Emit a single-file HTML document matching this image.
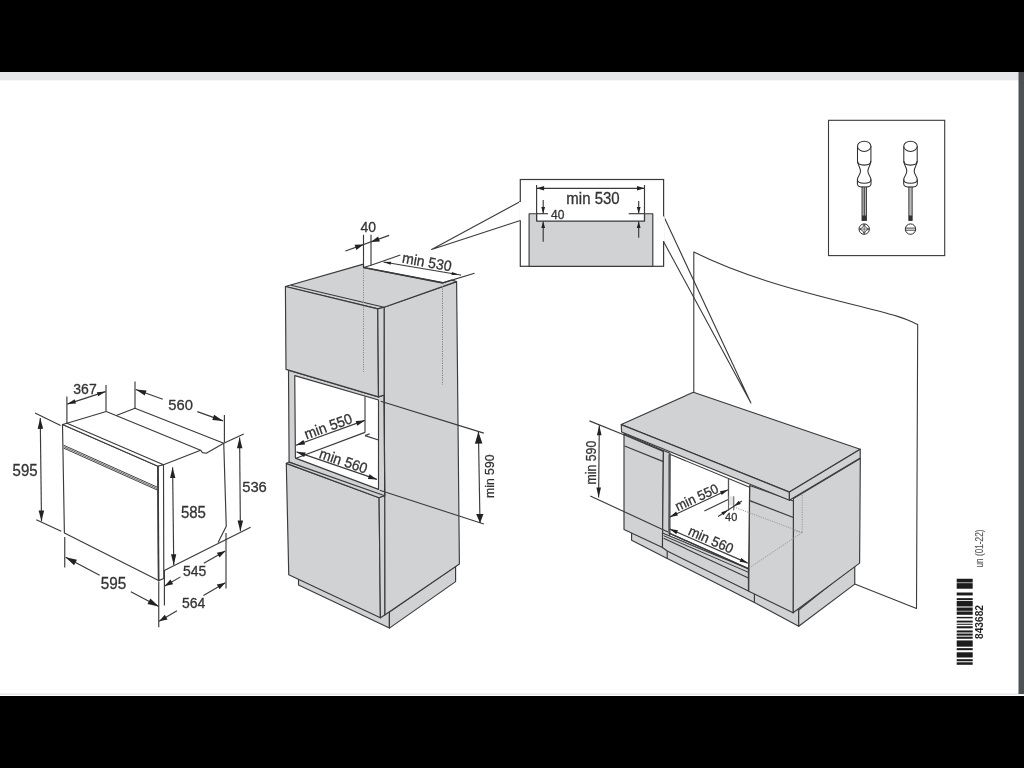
<!DOCTYPE html>
<html><head><meta charset="utf-8"><title>Installation dimensions</title>
<style>
html,body{margin:0;padding:0;background:#fff;width:1024px;height:768px;overflow:hidden}
svg{display:block;will-change:transform;transform:translateZ(0)}
text{font-family:"Liberation Sans",sans-serif}
</style></head><body>
<svg width="1024" height="768" viewBox="0 0 1024 768">
<rect x="0" y="0" width="1024" height="768" fill="#fff"/>
<rect x="0" y="0" width="1024" height="72" fill="#000"/>
<rect x="0" y="72" width="1024" height="8.3" fill="#e6e7e8"/>
<rect x="0" y="693.6" width="1024" height="1" fill="#dcdcdc"/>
<rect x="0" y="696" width="1024" height="72" fill="#000"/>
<rect x="1018.5" y="72" width="5.5" height="622" fill="#4d5154"/>
<defs><filter id="soft" filterUnits="userSpaceOnUse" x="0" y="80" width="1018" height="613"><feGaussianBlur stdDeviation="0.32"/></filter></defs>
<g filter="url(#soft)">
<polygon points="62.5,424.5 158,466.3 158.6,580.6 64.4,533.1" fill="#fff" stroke="#3a3a3a" stroke-width="1.15" stroke-linejoin="round" />
<polygon points="62.5,424.5 67,423.2 163.5,464.8 158,466.3" fill="#fff" stroke="#3a3a3a" stroke-width="1.15" stroke-linejoin="round" />
<polygon points="158,466.3 163.5,464.8 163.8,578.5 158.6,580.6" fill="#fff" stroke="#3a3a3a" stroke-width="1.15" stroke-linejoin="round" />
<line x1="158" y1="466.3" x2="158.6" y2="580.6" stroke="#3a3a3a" stroke-width="1.6" />
<line x1="67" y1="423.2" x2="106.25" y2="411.5" stroke="#3a3a3a" stroke-width="1.15" />
<polyline points="106.25,411.5 200.6,450.2 202.5,452.6 206.25,453.2 223.75,443.3" fill="none" stroke="#3a3a3a" stroke-width="1.15" stroke-linejoin="round" />
<polyline points="116.25,415.5 135,408.2 223.75,443.3" fill="none" stroke="#3a3a3a" stroke-width="1.15" stroke-linejoin="round" />
<line x1="163.5" y1="464.8" x2="200.6" y2="450.2" stroke="#3a3a3a" stroke-width="1.15" />
<polyline points="223.75,443.3 226.25,526.25 218.1,542.5" fill="none" stroke="#3a3a3a" stroke-width="1.15" stroke-linejoin="round" />
<line x1="163.8" y1="570.8" x2="250.6" y2="527.25" stroke="#3a3a3a" stroke-width="1.15" />
<line x1="63.6" y1="445.2" x2="157.6" y2="487.3" stroke="#444" stroke-width="1.0" />
<line x1="63.6" y1="446.65" x2="157.6" y2="488.75" stroke="#666" stroke-width="1.0" />
<line x1="63.6" y1="448.09999999999997" x2="157.6" y2="490.2" stroke="#444" stroke-width="1.0" />
<line x1="66.9" y1="396.5" x2="66.9" y2="423" stroke="#3a3a3a" stroke-width="1.15" />
<line x1="106" y1="385" x2="106" y2="411.5" stroke="#3a3a3a" stroke-width="1.15" />
<line x1="135" y1="381.5" x2="135" y2="408" stroke="#3a3a3a" stroke-width="1.15" />
<line x1="224.4" y1="415" x2="224.4" y2="442.5" stroke="#3a3a3a" stroke-width="1.15" />
<line x1="35" y1="413.1" x2="60.6" y2="425.4" stroke="#3a3a3a" stroke-width="1.15" />
<line x1="36.25" y1="519.75" x2="61.25" y2="531.25" stroke="#3a3a3a" stroke-width="1.15" />
<line x1="223.75" y1="443.3" x2="243.75" y2="434" stroke="#3a3a3a" stroke-width="1.15" />
<line x1="64.75" y1="536.9" x2="64.75" y2="567.5" stroke="#3a3a3a" stroke-width="1.15" />
<line x1="158.75" y1="581.5" x2="158.75" y2="627.2" stroke="#3a3a3a" stroke-width="1.15" />
<line x1="164.4" y1="571" x2="164.4" y2="605.6" stroke="#3a3a3a" stroke-width="1.15" />
<line x1="226" y1="533" x2="226" y2="588.4" stroke="#3a3a3a" stroke-width="1.15" />
<line x1="67.25" y1="404.1" x2="105.6" y2="391.6" stroke="#3a3a3a" stroke-width="1.15" />
<polygon points="67.25,404.10 74.65,399.37 76.01,403.56" fill="#222"/>
<polygon points="105.60,391.60 98.20,396.33 96.84,392.14" fill="#222"/>
<text transform="translate(85 393.5) scale(1 1.05)" font-size="14" text-anchor="middle" font-weight="normal" fill="#333" stroke="#333" stroke-width="0.28" >367</text>
<line x1="135.75" y1="389.5" x2="162.8285" y2="399.234" stroke="#3a3a3a" stroke-width="1.15" />
<line x1="197.33175" y1="411.637" x2="223.1" y2="420.9" stroke="#3a3a3a" stroke-width="1.15" />
<polygon points="135.75,389.50 146.54,390.51 144.72,395.59" fill="#222"/>
<polygon points="223.10,420.90 212.31,419.89 214.13,414.81" fill="#222"/>
<text transform="translate(180.6 409.8) scale(1 1.05)" font-size="14.8" text-anchor="middle" font-weight="normal" fill="#333" stroke="#333" stroke-width="0.28" >560</text>
<line x1="40.25" y1="418.1" x2="41.5" y2="521.25" stroke="#3a3a3a" stroke-width="1.15" />
<polygon points="40.25,418.10 43.13,428.87 37.63,428.93" fill="#222"/>
<polygon points="41.50,521.25 38.62,510.48 44.12,510.42" fill="#222"/>
<text transform="translate(25.1 475.5) scale(1 1.05)" font-size="15" text-anchor="middle" font-weight="normal" fill="#333" stroke="#333" stroke-width="0.28" >595</text>
<line x1="239.6" y1="437.5" x2="240.4" y2="531.25" stroke="#3a3a3a" stroke-width="1.15" />
<polygon points="239.60,437.50 242.44,448.28 236.94,448.32" fill="#222"/>
<polygon points="240.40,531.25 237.56,520.47 243.06,520.43" fill="#222"/>
<text transform="translate(254.5 492.2) scale(1 1.05)" font-size="14.8" text-anchor="middle" font-weight="normal" fill="#333" stroke="#333" stroke-width="0.28" >536</text>
<line x1="172.6" y1="467.2" x2="173.75" y2="565" stroke="#3a3a3a" stroke-width="1.15" />
<polygon points="172.60,467.20 175.38,477.97 170.08,478.03" fill="#222"/>
<polygon points="173.75,565.00 170.97,554.23 176.27,554.17" fill="#222"/>
<text transform="translate(193.4 518.2) scale(1 1.05)" font-size="15" text-anchor="middle" font-weight="normal" fill="#333" stroke="#333" stroke-width="0.28" >585</text>
<line x1="65.6" y1="557.3" x2="99.618" y2="575.2215" stroke="#3a3a3a" stroke-width="1.15" />
<line x1="130.84" y1="591.67" x2="158.8" y2="606.4" stroke="#3a3a3a" stroke-width="1.15" />
<polygon points="65.60,557.30 76.95,559.78 74.06,565.26" fill="#222"/>
<polygon points="158.80,606.40 147.45,603.92 150.34,598.44" fill="#222"/>
<text transform="translate(113.5 588.7) scale(1 1.05)" font-size="15.3" text-anchor="middle" font-weight="normal" fill="#333" stroke="#333" stroke-width="0.28" >595</text>
<line x1="164.75" y1="586" x2="180.493" y2="576.874" stroke="#3a3a3a" stroke-width="1.15" />
<line x1="203.80475" y1="563.3605" x2="225.3" y2="550.9" stroke="#3a3a3a" stroke-width="1.15" />
<polygon points="164.75,586.00 170.47,579.51 173.22,584.27" fill="#222"/>
<polygon points="225.30,550.90 219.58,557.39 216.83,552.63" fill="#222"/>
<text transform="translate(194.7 576) scale(1 1.05)" font-size="14" text-anchor="middle" font-weight="normal" fill="#333" stroke="#333" stroke-width="0.28" >545</text>
<line x1="159.1" y1="621.2" x2="176.974" y2="610.8185000000001" stroke="#3a3a3a" stroke-width="1.15" />
<line x1="203.454" y1="595.4385" x2="225.3" y2="582.75" stroke="#3a3a3a" stroke-width="1.15" />
<polygon points="159.10,621.20 164.78,614.66 167.60,619.50" fill="#222"/>
<polygon points="225.30,582.75 219.62,589.29 216.80,584.45" fill="#222"/>
<text transform="translate(193.7 608.4) scale(1 1.05)" font-size="14" text-anchor="middle" font-weight="normal" fill="#333" stroke="#333" stroke-width="0.28" >564</text>
<polygon points="298.5,578 298.5,585 389.4,628.1 389.4,612" fill="#d1d2d4" stroke="#3a3a3a" stroke-width="1.15" stroke-linejoin="round" />
<polygon points="389.4,612 389.4,628.1 455.6,581.6 455.6,566" fill="#d1d2d4" stroke="#3a3a3a" stroke-width="1.15" stroke-linejoin="round" />
<polygon points="384.1,307.2 456.6,281.6 459.4,564 384.75,615" fill="#d1d2d4" stroke="#3a3a3a" stroke-width="1.15" stroke-linejoin="round" />
<polygon points="285.4,286.5 363.5,264.1 363.5,267.5 442.9,282.9 451.6,280 456.6,281.6 384.1,307.2 377.8,308.9" fill="#d1d2d4" stroke="#3a3a3a" stroke-width="1.15" stroke-linejoin="round" />
<line x1="291" y1="285.2" x2="384.1" y2="307.2" stroke="#3a3a3a" stroke-width="1.15" />
<line x1="363.5" y1="267.5" x2="442.9" y2="282.9" stroke="#3a3a3a" stroke-width="1.7" />
<polygon points="288.5,370.2 378.5,396.9 384.1,395 384.75,495.7 379.1,497.75 289.1,462.1" fill="#d1d2d4" stroke="#3a3a3a" stroke-width="1.15" stroke-linejoin="round" />
<polygon points="294.75,375.6 378.5,400 378.5,489.4 295.4,458.1" fill="#fff" stroke="#3a3a3a" stroke-width="1.15" stroke-linejoin="round" />
<line x1="384.1" y1="395" x2="384.75" y2="495.7" stroke="#3a3a3a" stroke-width="1.15" />
<line x1="365" y1="396.2" x2="365" y2="432.4" stroke="#555" stroke-width="1.3" />
<line x1="365" y1="432.4" x2="296" y2="458.2" stroke="#3a3a3a" stroke-width="1.15" />
<line x1="365" y1="435.6" x2="378.5" y2="440" stroke="#3a3a3a" stroke-width="1.15" />
<line x1="365" y1="435.6" x2="369.75" y2="433.75" stroke="#3a3a3a" stroke-width="1.15" />
<polygon points="285.4,286.5 377.8,308.9 378.5,396.9 286,369.4" fill="#d1d2d4" stroke="#3a3a3a" stroke-width="1.15" stroke-linejoin="round" />
<polygon points="377.8,308.9 384.1,307.2 384.1,395 378.5,396.9" fill="#d1d2d4" stroke="#3a3a3a" stroke-width="1.15" stroke-linejoin="round" />
<polygon points="286.3,463.4 379.1,497.75 380.4,617.8 288.75,574.7" fill="#d1d2d4" stroke="#3a3a3a" stroke-width="1.15" stroke-linejoin="round" />
<polygon points="286.3,463.4 289.1,462.1 384.75,495.7 379.1,497.75" fill="#d1d2d4" stroke="#3a3a3a" stroke-width="1.15" stroke-linejoin="round" />
<polygon points="379.1,497.75 384.75,495.7 384.75,615 380.4,617.8" fill="#d1d2d4" stroke="#3a3a3a" stroke-width="1.15" stroke-linejoin="round" />
<line x1="363.5" y1="268" x2="363.5" y2="372" stroke="#8a8a8a" stroke-width="1" stroke-dasharray="1.2 1.2"/>
<line x1="442.5" y1="286" x2="442.5" y2="385" stroke="#808080" stroke-width="1" stroke-dasharray="1.2 1.2"/>
<line x1="363.5" y1="234.75" x2="363.5" y2="267.5" stroke="#3a3a3a" stroke-width="1.15" />
<line x1="371" y1="234.75" x2="371" y2="265.4" stroke="#3a3a3a" stroke-width="1.15" />
<line x1="345.4" y1="251" x2="389.1" y2="235.4" stroke="#3a3a3a" stroke-width="1.15" />
<polygon points="363.50,244.50 356.41,249.91 354.59,244.83" fill="#222"/>
<polygon points="371.00,241.90 378.09,236.49 379.91,241.57" fill="#222"/>
<text transform="translate(368.2 232.2) scale(1 1.05)" font-size="14" text-anchor="middle" font-weight="normal" fill="#333" stroke="#333" stroke-width="0.28" >40</text>
<polyline points="363.5,267.5 371,265.2 400.4,255" fill="none" stroke="#3a3a3a" stroke-width="1.15" stroke-linejoin="round" />
<line x1="442.9" y1="282.9" x2="474.5" y2="273.2" stroke="#3a3a3a" stroke-width="1.15" />
<line x1="383.5" y1="262" x2="459.1" y2="274.75" stroke="#3a3a3a" stroke-width="1.15" />
<polygon points="383.50,262.00 391.16,261.67 390.63,264.82" fill="#222"/>
<polygon points="459.10,274.75 451.44,275.08 451.97,271.93" fill="#222"/>
<line x1="459.1" y1="274.75" x2="461" y2="275.1" stroke="#3a3a3a" stroke-width="1.15" />
<text transform="translate(401.6 262.6) rotate(10.3) scale(1 1.05)" font-size="14" text-anchor="start" font-weight="normal" fill="#333" stroke="#333" stroke-width="0.28" >min 530</text>
<line x1="296" y1="445.25" x2="364.75" y2="420.4" stroke="#3a3a3a" stroke-width="1.15" />
<polygon points="296.00,445.25 303.43,439.91 305.13,444.61" fill="#222"/>
<polygon points="364.75,420.40 357.32,425.74 355.62,421.04" fill="#222"/>
<g transform="translate(330.4 432.8) rotate(-19.8)">
<text transform="translate(0.2 -1.8) scale(1 1.05)" font-size="14" text-anchor="middle" font-weight="normal" fill="#333" stroke="#333" stroke-width="0.28" >min 550</text>
</g>
<line x1="296.6" y1="451.9" x2="377" y2="479.4" stroke="#3a3a3a" stroke-width="1.15" />
<polygon points="296.60,451.90 305.74,452.38 304.12,457.11" fill="#222"/>
<polygon points="377.00,479.40 367.86,478.92 369.48,474.19" fill="#222"/>
<g transform="translate(336.8 465.65) rotate(18.8)">
<text transform="translate(4.9 -1.5) scale(1 1.05)" font-size="14" text-anchor="middle" font-weight="normal" fill="#333" stroke="#333" stroke-width="0.28" >min 560</text>
</g>
<line x1="380.7" y1="401.25" x2="483.8" y2="433.1" stroke="#3a3a3a" stroke-width="1.15" />
<line x1="379.75" y1="490.3" x2="483.8" y2="524" stroke="#3a3a3a" stroke-width="1.15" />
<line x1="478.4" y1="431.7" x2="480" y2="523" stroke="#3a3a3a" stroke-width="1.15" />
<polygon points="478.40,431.70 482.39,443.62 474.89,443.77" fill="#222"/>
<polygon points="480.00,523.00 476.17,514.07 483.47,513.93" fill="#222"/>
<text transform="translate(494.2 476.25) rotate(-90)" font-size="13.4" text-anchor="middle" font-weight="normal" fill="#333" stroke="#333" stroke-width="0.28" textLength="43.4" lengthAdjust="spacingAndGlyphs">min 590</text>
<polyline points="520.3,201.5 431.6,249.5 520.3,220.6" fill="none" stroke="#3a3a3a" stroke-width="1.1" stroke-linejoin="round" />
<polyline points="663.5,215.8 750.9,402.9 663.5,241.5" fill="none" stroke="#3a3a3a" stroke-width="1.1" stroke-linejoin="round" />
<rect x="520.3" y="179.5" width="143.3" height="86.8" fill="#fff" stroke="#3a3a3a" stroke-width="1.2"/>
<line x1="520.3" y1="202" x2="520.3" y2="220.2" stroke="#fff" stroke-width="2.4" />
<line x1="663.6" y1="216.4" x2="663.6" y2="241" stroke="#fff" stroke-width="2.4" />
<polygon points="529.1,213.7 536.6,213.7 536.6,221.1 644.5,221.1 644.5,213.7 652.8,213.7 652.8,266.3 529.1,266.3" fill="#d1d2d4" stroke="#3a3a3a" stroke-width="1.15" stroke-linejoin="round" />
<line x1="536.6" y1="185" x2="536.6" y2="221.1" stroke="#3a3a3a" stroke-width="1.15" />
<line x1="644.5" y1="185" x2="644.5" y2="221.1" stroke="#3a3a3a" stroke-width="1.15" />
<line x1="536.6" y1="188.3" x2="644.5" y2="188.3" stroke="#3a3a3a" stroke-width="1.15" />
<polygon points="536.60,188.30 544.10,186.10 544.10,190.50" fill="#222"/>
<polygon points="644.50,188.30 637.00,190.50 637.00,186.10" fill="#222"/>
<text transform="translate(593 203.7) scale(1 1.05)" font-size="15" text-anchor="middle" font-weight="normal" fill="#333" stroke="#333" stroke-width="0.28" >min 530</text>
<text transform="translate(551 218.6) scale(1 1.05)" font-size="12" text-anchor="start" font-weight="normal" fill="#333" stroke="#333" stroke-width="0.28" >40</text>
<line x1="536.6" y1="213.7" x2="547.9" y2="213.7" stroke="#3a3a3a" stroke-width="1.15" />
<line x1="628.7" y1="213.7" x2="644.5" y2="213.7" stroke="#3a3a3a" stroke-width="1.15" />
<line x1="543.2" y1="199.9" x2="543.2" y2="213.5" stroke="#3a3a3a" stroke-width="1.15" />
<polygon points="543.20,213.50 541.30,207.00 545.10,207.00" fill="#222"/>
<line x1="543.2" y1="241.7" x2="543.2" y2="221.5" stroke="#3a3a3a" stroke-width="1.15" />
<polygon points="543.20,221.50 545.10,228.00 541.30,228.00" fill="#222"/>
<line x1="638.7" y1="201" x2="638.7" y2="213.5" stroke="#3a3a3a" stroke-width="1.15" />
<polygon points="638.70,213.50 636.80,207.00 640.60,207.00" fill="#222"/>
<line x1="638.7" y1="237.7" x2="638.7" y2="221.5" stroke="#3a3a3a" stroke-width="1.15" />
<polygon points="638.70,221.50 640.60,228.00 636.80,228.00" fill="#222"/>
<path d="M693.8,392.5 L693.8,252.1 C740,275 790,289 850.6,304 S905,319 917.7,324.6 L916.5,608.5 L854.75,584.1" fill="none" stroke="#3a3a3a" stroke-width="1.1" stroke-linejoin="round"/>
<polygon points="631.6,532 631.6,540.25 667.2,558.4 754.4,602.5 798.7,626.3 798.7,610" fill="#d1d2d4" stroke="#3a3a3a" stroke-width="1.15" stroke-linejoin="round" />
<polygon points="798.7,610 798.7,626.3 854.75,584.1 854.75,565" fill="#d1d2d4" stroke="#3a3a3a" stroke-width="1.15" stroke-linejoin="round" />
<line x1="667.2" y1="550" x2="667.2" y2="558.4" stroke="#3a3a3a" stroke-width="1.15" />
<line x1="754.4" y1="592" x2="754.4" y2="602.5" stroke="#3a3a3a" stroke-width="1.15" />
<polygon points="793.4,498.4 860.3,458.4 859.6,563.1 793.1,612.8" fill="#d1d2d4" stroke="#3a3a3a" stroke-width="1.15" stroke-linejoin="round" />
<polygon points="624,433.5 663.4,450.5 662.5,547.5 624,529.4" fill="#d1d2d4" stroke="#3a3a3a" stroke-width="1.15" stroke-linejoin="round" />
<line x1="624.6" y1="446" x2="663.4" y2="461.6" stroke="#3a3a3a" stroke-width="1.15" />
<line x1="624" y1="434.6" x2="663.4" y2="451.4" stroke="#3a3a3a" stroke-width="1.15" />
<polygon points="663.4,450.5 670,453.2 669.6,550 662.5,547.5" fill="#d1d2d4" stroke="#3a3a3a" stroke-width="1.15" stroke-linejoin="round" />
<polygon points="662.5,533 748.4,568.75 748.4,591.1 667.2,551 662.5,547.5" fill="#d1d2d4" stroke="#3a3a3a" stroke-width="1.15" stroke-linejoin="round" />
<polygon points="749.7,485.5 793.4,501 793.1,612.8 748.75,591.25" fill="#d1d2d4" stroke="#3a3a3a" stroke-width="1.15" stroke-linejoin="round" />
<line x1="749.7" y1="500.6" x2="793.4" y2="517.5" stroke="#3a3a3a" stroke-width="1.15" />
<polygon points="670,454.3 749.6,487.2 748.6,568.6 669.2,533.2" fill="#fff" stroke="#3a3a3a" stroke-width="1.15" stroke-linejoin="round" />
<line x1="669.5" y1="454.3" x2="669.5" y2="533.6" stroke="#555" stroke-width="2.2" />
<line x1="669.2" y1="533.2" x2="748.4" y2="568.75" stroke="#3a3a3a" stroke-width="1.3" />
<line x1="663.6" y1="535.7" x2="748.4" y2="572.3" stroke="#3a3a3a" stroke-width="1.0" />
<line x1="663.6" y1="538.3" x2="748.4" y2="577.9" stroke="#3a3a3a" stroke-width="1.1" />
<line x1="728.5" y1="478.75" x2="728.5" y2="498.1" stroke="#555" stroke-width="1.3" />
<line x1="704.4" y1="511" x2="728.1" y2="499.4" stroke="#3a3a3a" stroke-width="1.15" />
<polygon points="693.4,392.2 860.2,449.2 789.4,492.1 621.25,424.6" fill="#d1d2d4" stroke="#3a3a3a" stroke-width="1.15" stroke-linejoin="round" />
<polygon points="621.25,424.6 789.4,492.1 789.4,500.3 621.6,432" fill="#d1d2d4" stroke="#3a3a3a" stroke-width="1.15" stroke-linejoin="round" />
<polygon points="789.4,492.1 860.2,449.2 860.2,458.1 789.4,500.3" fill="#d1d2d4" stroke="#3a3a3a" stroke-width="1.15" stroke-linejoin="round" />
<line x1="733.75" y1="506.9" x2="802.2" y2="532.5" stroke="#969696" stroke-width="1" stroke-dasharray="1.2 1.2"/>
<line x1="802.2" y1="495" x2="802.2" y2="532.5" stroke="#969696" stroke-width="1" stroke-dasharray="1.2 1.2"/>
<line x1="802.2" y1="532.5" x2="749" y2="568" stroke="#969696" stroke-width="1" stroke-dasharray="1.2 1.2"/>
<line x1="793.75" y1="530.6" x2="802.2" y2="532.5" stroke="#969696" stroke-width="1" stroke-dasharray="1.2 1.2"/>
<line x1="589.4" y1="420.9" x2="625" y2="435.3" stroke="#3a3a3a" stroke-width="1.15" />
<line x1="590.3" y1="495.9" x2="668" y2="532" stroke="#3a3a3a" stroke-width="1.15" />
<line x1="599.3" y1="425.3" x2="598.6" y2="497.6" stroke="#3a3a3a" stroke-width="1.15" />
<polygon points="599.30,425.30 601.50,435.32 596.90,435.28" fill="#222"/>
<polygon points="598.60,497.60 596.40,487.58 601.00,487.62" fill="#222"/>
<text transform="translate(596 462.6) rotate(-90)" font-size="14" text-anchor="middle" font-weight="normal" fill="#333" stroke="#333" stroke-width="0.28" textLength="43.6" lengthAdjust="spacingAndGlyphs">min 590</text>
<line x1="669.8" y1="516.9" x2="728.1" y2="489.75" stroke="#3a3a3a" stroke-width="1.15" />
<polygon points="669.80,516.90 676.17,511.62 677.94,515.43" fill="#222"/>
<polygon points="728.10,489.75 721.73,495.03 719.96,491.22" fill="#222"/>
<g transform="translate(698.9 503.3) rotate(-24.8)">
<text transform="translate(0.5 -1.6) scale(1 1.05)" font-size="13" text-anchor="middle" font-weight="normal" fill="#333" stroke="#333" stroke-width="0.28" >min 550</text>
</g>
<line x1="669.8" y1="529" x2="747.8" y2="563.1" stroke="#3a3a3a" stroke-width="1.15" />
<polygon points="669.80,529.00 677.97,530.28 676.29,534.13" fill="#222"/>
<polygon points="747.80,563.10 739.63,561.82 741.31,557.97" fill="#222"/>
<g transform="translate(708.7 546) rotate(23.6)">
<text transform="translate(-0.5 -1.8) scale(1 1.05)" font-size="13.4" text-anchor="middle" font-weight="normal" fill="#333" stroke="#333" stroke-width="0.28" >min 560</text>
</g>
<rect x="728.5" y="496.5" width="5.2" height="9" fill="#e4e4e4"/>
<line x1="728.5" y1="496.25" x2="728.5" y2="510.6" stroke="#666" stroke-width="1.1" />
<line x1="733.75" y1="496.25" x2="733.75" y2="510.6" stroke="#666" stroke-width="1.1" />
<line x1="718.1" y1="516.5" x2="741.9" y2="501" stroke="#3a3a3a" stroke-width="1.15" />
<polygon points="727.70,510.20 723.32,515.36 721.23,512.19" fill="#222"/>
<polygon points="734.30,505.90 738.75,500.80 740.80,504.00" fill="#222"/>
<text transform="translate(731.2 521.2) scale(1 1.05)" font-size="11" text-anchor="middle" font-weight="normal" fill="#333" stroke="#333" stroke-width="0.28" >40</text>
<rect x="828.5" y="120.3" width="116.2" height="135.3" fill="#fff" stroke="#3a3a3a" stroke-width="1.1"/>
<path d="M857.5,146 L857.5,161 C857.5,165 860.5,167 860.5,171.3 C860.5,175 857.4000000000001,176 857.4000000000001,180 L857.4000000000001,184 C857.4000000000001,188.2 871.0,188.2 871.0,184 L871.0,180 C871.0,176 867.9000000000001,175 867.9000000000001,171.3 C867.9000000000001,167 870.9000000000001,165 870.9000000000001,161 L870.9000000000001,146" fill="#fff" stroke="#2e2e2e" stroke-width="1.05"/>
<ellipse cx="864.2" cy="146.3" rx="6.7" ry="5.1" fill="#fff" stroke="#2e2e2e" stroke-width="1.05"/>
<path d="M857.5,161 C857.5,166.5 870.9000000000001,166.5 870.9000000000001,161" fill="none" stroke="#2e2e2e" stroke-width="1.05"/>
<path d="M857.4000000000001,179.5 C857.4000000000001,184.5 871.0,184.5 871.0,179.5" fill="none" stroke="#2e2e2e" stroke-width="1.05"/>
<rect x="862.0" y="187" width="4.4" height="33.4" fill="#bbb" stroke="#2e2e2e" stroke-width="0.9"/>
<rect x="863.7" y="187" width="1.3" height="33" fill="#555"/>
<rect x="862.0" y="215.5" width="4.4" height="5" fill="#333"/>
<circle cx="864.2" cy="229.1" r="5.2" fill="#fff" stroke="#2e2e2e" stroke-width="1"/>
<path d="M864.2,224.6 L865.8000000000001,227.5 L868.7,229.1 L865.8000000000001,230.7 L864.2,233.6 L862.6,230.7 L859.7,229.1 L862.6,227.5 Z" fill="none" stroke="#2e2e2e" stroke-width="0.8"/>
<line x1="864.2" y1="224" x2="864.2" y2="234.2" stroke="#2e2e2e" stroke-width="0.6"/><line x1="859.2" y1="229.1" x2="869.2" y2="229.1" stroke="#2e2e2e" stroke-width="0.6"/>
<path d="M903.8,146 L903.8,161 C903.8,165 906.8,167 906.8,171.3 C906.8,175 903.7,176 903.7,180 L903.7,184 C903.7,188.2 917.3,188.2 917.3,184 L917.3,180 C917.3,176 914.2,175 914.2,171.3 C914.2,167 917.2,165 917.2,161 L917.2,146" fill="#fff" stroke="#2e2e2e" stroke-width="1.05"/>
<ellipse cx="910.5" cy="146.3" rx="6.7" ry="5.1" fill="#fff" stroke="#2e2e2e" stroke-width="1.05"/>
<path d="M903.8,161 C903.8,166.5 917.2,166.5 917.2,161" fill="none" stroke="#2e2e2e" stroke-width="1.05"/>
<path d="M903.7,179.5 C903.7,184.5 917.3,184.5 917.3,179.5" fill="none" stroke="#2e2e2e" stroke-width="1.05"/>
<rect x="908.85" y="187" width="3.3" height="33.4" fill="#bbb" stroke="#2e2e2e" stroke-width="0.9"/>
<rect x="908.85" y="215.5" width="3.3" height="5" fill="#333"/>
<circle cx="910.5" cy="229.1" r="5.2" fill="#fff" stroke="#2e2e2e" stroke-width="1"/>
<line x1="905.5" y1="228.1" x2="915.5" y2="228.1" stroke="#2e2e2e" stroke-width="0.9"/><line x1="905.5" y1="230.2" x2="915.5" y2="230.2" stroke="#2e2e2e" stroke-width="0.9"/>
<rect x="956.7" y="578.75" width="16" height="3.75" fill="#1e1e1e"/>
<rect x="956.7" y="583.12" width="16" height="5.62" fill="#1e1e1e"/>
<rect x="956.7" y="592.50" width="16" height="2.92" fill="#1e1e1e"/>
<rect x="956.7" y="598.12" width="16" height="1.88" fill="#1e1e1e"/>
<rect x="956.7" y="600.83" width="16" height="5.62" fill="#1e1e1e"/>
<rect x="956.7" y="607.50" width="16" height="3.33" fill="#1e1e1e"/>
<rect x="956.7" y="611.46" width="16" height="3.33" fill="#1e1e1e"/>
<rect x="956.7" y="616.88" width="16" height="1.46" fill="#1e1e1e"/>
<rect x="956.7" y="620.62" width="16" height="1.88" fill="#1e1e1e"/>
<rect x="956.7" y="623.75" width="16" height="1.04" fill="#1e1e1e"/>
<rect x="956.7" y="626.25" width="16" height="2.08" fill="#1e1e1e"/>
<rect x="956.7" y="630.42" width="16" height="2.08" fill="#1e1e1e"/>
<rect x="956.7" y="633.54" width="16" height="2.08" fill="#1e1e1e"/>
<rect x="956.7" y="636.67" width="16" height="2.08" fill="#1e1e1e"/>
<rect x="956.7" y="640.42" width="16" height="6.25" fill="#1e1e1e"/>
<rect x="956.7" y="648.12" width="16" height="2.08" fill="#1e1e1e"/>
<rect x="956.7" y="652.29" width="16" height="5.21" fill="#1e1e1e"/>
<rect x="956.7" y="659.17" width="16" height="2.08" fill="#1e1e1e"/>
<rect x="956.7" y="662.29" width="16" height="2.50" fill="#1e1e1e"/>
<text transform="translate(982.8 622) rotate(-90)" font-size="10.2" text-anchor="middle" font-weight="bold" fill="#222" >843682</text>
<text transform="translate(983 548.5) rotate(-90)" font-size="10.5" text-anchor="middle" font-weight="normal" fill="#555" stroke="#555" stroke-width="0.15" textLength="38" lengthAdjust="spacingAndGlyphs">un (01-22)</text>
</g>
</svg>
</body></html>
